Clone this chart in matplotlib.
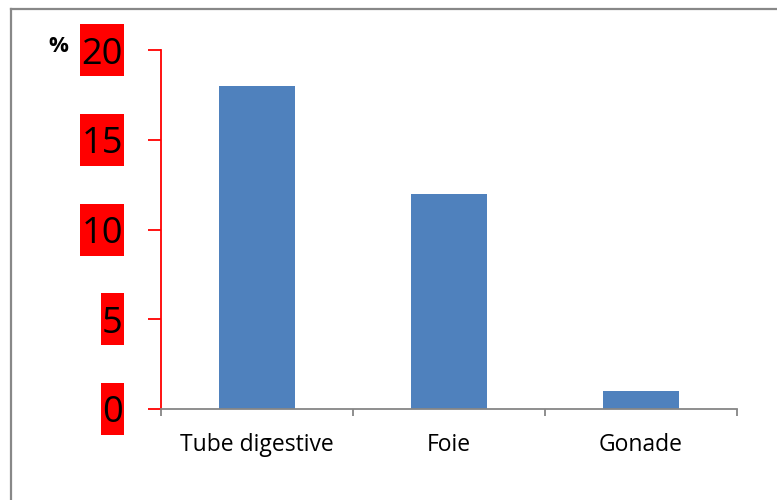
import matplotlib.pyplot as plt
from matplotlib.lines import Line2D
from matplotlib.patches import Rectangle
from matplotlib.transforms import Affine2D, ScaledTranslation

organes = ['Tube digestive', 'Foie', 'Gonade']
pourcentages = [18, 12, 1]
graduations = [0, 5, 10, 15, 20]

plt.rcParams['font.family'] = ['Open Sans', 'DejaVu Sans']

fig = plt.figure(figsize=(7.77, 5), dpi=100)
ax = fig.add_axes([161 / 777, 91 / 500, 576 / 777, 359 / 500])

x = range(len(organes))
ax.bar(x, pourcentages, width=0.4, color='#4F81BD', zorder=2)

ax.set_xlim(-0.5, len(organes) - 0.5)
ax.set_ylim(0, 20)

# y axis: red spine and ticks
for s in ['top', 'right']:
    ax.spines[s].set_visible(False)
ax.spines['left'].set_color('red')
ax.spines['left'].set_linewidth(1.3)
ax.spines['bottom'].set_color('#868686')
ax.spines['bottom'].set_linewidth(1.3)

ax.set_yticks(graduations)
ax.set_yticklabels([str(g) for g in graduations], fontsize=26)
ax.tick_params(axis='y', direction='out', length=9.5, width=1.3,
               color='red', pad=18)

# x axis: category labels, tick marks between categories
ax.set_xticks(list(x))
ax.set_xticklabels(organes, fontsize=16.5)
ax.tick_params(axis='x', length=0, pad=17)
ax.set_xticks([i - 0.5 for i in range(len(organes) + 1)], minor=True)
ax.tick_params(axis='x', which='minor', direction='out', length=5,
               width=1.3, color='#868686')

fig.text(58 / 777, 1 - 46 / 500, '%', fontsize=16, fontweight='bold',
         ha='center', va='center')

# red boxes behind the y tick labels (tall, hugging the digits)
fig.canvas.draw()
renderer = fig.canvas.get_renderer()
ax_left = ax.transAxes.transform((0, 0))[0]
for g, lab in zip(graduations, ax.get_yticklabels()):
    bb = lab.get_window_extent(renderer)
    x0 = bb.x0 - 1 - ax_left
    w = bb.width + 2
    h = 52
    tr = (Affine2D().translate(x0, -h / 2)
          + ScaledTranslation(0, g, ax.get_yaxis_transform()))
    ax.add_patch(Rectangle((0, 0), w, h, facecolor='red', edgecolor='none',
                           transform=tr, clip_on=False, zorder=0))

# chart-area border
fig.add_artist(Line2D([11 / 777, 1], [1 - 9 / 500, 1 - 9 / 500],
                      color='#888888', lw=1.6, transform=fig.transFigure))
fig.add_artist(Line2D([11 / 777, 11 / 777], [0, 1 - 9 / 500],
                      color='#888888', lw=1.6, transform=fig.transFigure))

plt.savefig('out.png', dpi=100)
